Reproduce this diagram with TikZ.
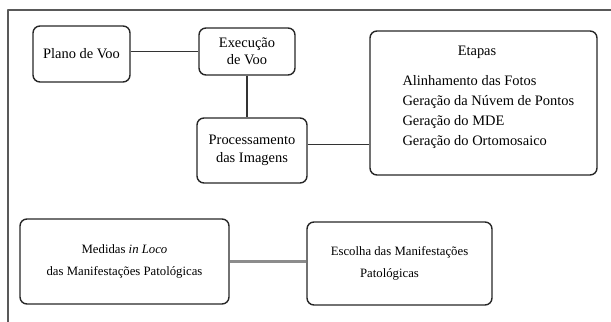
\documentclass[tikz,border=0pt]{standalone}
\usepackage{fontspec}
\setmainfont{Liberation Serif}
\begin{document}
\begin{tikzpicture}[>=latex,line join=bevel,
  box/.style={draw=black!85,line width=1.4bp,rounded corners=7bp,inner sep=0pt,align=center,font=\fontsize{14.5}{17.5}\selectfont},
  lowbox/.style={box,font=\fontsize{12.8}{22.5}\selectfont},
  txt/.style={inner sep=0pt,font=\fontsize{14.5}{20}\selectfont},
  link/.style={draw=black!80,line width=1.2bp},
  greylink/.style={draw=black!45,line width=2.5bp},
]
  \pgfsetlinewidth{1bp}
  \useasboundingbox (0bp,0bp) rectangle (611bp,322bp);
%%
\begin{scope}
  \definecolor{framecol}{rgb}{0.35,0.35,0.35};
  \draw[framecol,line width=1.5bp] (8bp,0bp) -- (8bp,312bp) -- (611bp,312bp);
\end{scope}
  % Node: plano
  \node[box,minimum width=97bp,minimum height=56bp] (plano) at (81.5bp,268bp) {Plano de Voo};
  % Node: execucao
  \node[box,minimum width=96bp,minimum height=47bp] (execucao) at (247bp,270.5bp) {Execução\\de Voo};
  % Node: proc
  \node[box,minimum width=110bp,minimum height=65bp] (proc) at (252bp,171.5bp) {Processamento\\das Imagens};
  % Node: etapas
  \node[box,minimum width=227bp,minimum height=144bp] (etapas) at (483.5bp,219bp) {};
  \node[txt] (etapastitle) at (477bp,270bp) {Etapas};
  \node[txt,anchor=west,align=left] (etapaslist) at (402bp,210bp) {Alinhamento das Fotos\\Geração da Núvem de Pontos\\Geração do MDE\\Geração do Ortomosaico};
  % Node: medidas
  \node[lowbox,minimum width=209bp,minimum height=85bp] (medidas) at (124.5bp,60.5bp) {Medidas \textit{in Loco}\\das Manifestações Patológicas};
  % Node: escolha
  \node[lowbox,align=left,minimum width=185bp,minimum height=83bp] (escolha) at (399.5bp,58.5bp) {Escolha das Manifestações\\\hspace*{2.3em}Patológicas};
  % Edge: plano -- execucao
  \draw[link] (plano.east |- execucao.west) -- (execucao.west);
  % Edge: execucao -- proc
  \draw[link] (execucao.south) -- (execucao.south |- proc.north);
  % Edge: proc -- etapas
  \draw[link] ([yshift=6bp]proc.east) -- ([yshift=6bp]proc.east -| etapas.west);
  % Edge: medidas -- escolha
  \draw[greylink] (medidas.east) -- (medidas.east -| escolha.west);
%
\end{tikzpicture}
\end{document}
